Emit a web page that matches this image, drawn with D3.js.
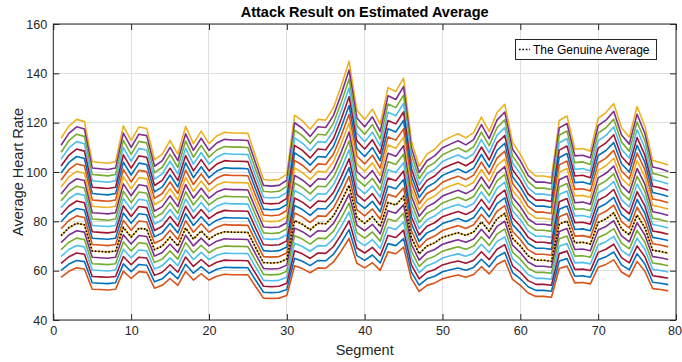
<!DOCTYPE html>
<html>
<head>
<meta charset="utf-8">
<script src="https://cdn.jsdelivr.net/npm/d3@7"></script>
<style>
  html, body { margin: 0; padding: 0; background: #fff; }
  svg { display: block; font-family: "Liberation Sans", Arial, Helvetica, sans-serif; }
</style>
</head>
<body>
<svg id="chart" width="682" height="362"></svg>
<script>
// ---- data ----
const title = "Attack Result on Estimated Average";
const xLabel = "Segment";
const yLabel = "Average Heart Rate";
const legendLabel = "The Genuine Average";

// genuine average heart rate per segment (segments 1..79)
const genuineAverage = [
  74.2, 77.4, 79.2, 78.6, 68.0, 67.8, 67.6, 68.0, 77.5, 73.6,
  77.2, 76.8, 68.5, 70.0, 73.6, 70.0, 77.3, 72.8, 76.1, 72.8,
  74.8, 75.8, 75.6, 75.6, 75.5, 69.3, 63.3, 63.1, 63.3, 64.7,
  80.3, 78.8, 76.6, 79.2, 79.0, 82.3, 88.1, 94.6, 81.6, 79.2,
  81.9, 77.9, 87.6, 86.6, 90.1, 73.5, 66.8, 70.0, 71.3, 73.5,
  74.5, 75.4, 74.3, 75.7, 79.8, 76.0, 81.0, 83.2, 73.1, 70.0,
  66.0, 64.2, 64.2, 63.8, 78.9, 80.1, 71.3, 71.5, 70.8, 79.5,
  81.0, 83.4, 77.0, 74.5, 82.6, 77.4, 68.3, 67.8, 67.1
];

// attack scaling factors applied to the genuine average (bottom to top)
const attackFactors = [
  0.772, 0.810, 0.848, 0.886, 0.924, 0.962, 1.000, 1.038, 1.076, 1.114, 1.152,
  1.190, 1.228, 1.266, 1.304, 1.342, 1.380, 1.418, 1.456, 1.494, 1.532
];

// colour of each attack line (bottom to top)
const lineColors = [
  "#D95319", "#0072BD", "#A2142F", "#4DBEEE", "#77AC30", "#7E2F8E", "#EDB120",
  "#D95319", "#0072BD", "#A2142F", "#4DBEEE", "#77AC30", "#7E2F8E", "#EDB120",
  "#D95319", "#0072BD", "#A2142F", "#4DBEEE", "#77AC30", "#7E2F8E", "#EDB120"
];

const xTicks = [0, 10, 20, 30, 40, 50, 60, 70, 80];
const yTicks = [40, 60, 80, 100, 120, 140, 160];
const xDomain = [0, 80];
const yDomain = [40, 160];

// ---- layout ----
const W = 682, H = 362;
const plot = { left: 53.3, right: 676, top: 24, bottom: 320 };
const axisColor = "#262626";
const gridColor = "#dfdfdf";
const tickLen = 6;

const svg = d3.select("#chart");
const x = d3.scaleLinear().domain(xDomain).range([plot.left, plot.right]);
const y = d3.scaleLinear().domain(yDomain).range([plot.bottom, plot.top]);

// grid
const grid = svg.append("g");
grid.selectAll("line.gx").data(xTicks).join("line")
  .attr("x1", d => x(d)).attr("x2", d => x(d))
  .attr("y1", plot.top).attr("y2", plot.bottom)
  .attr("stroke", gridColor).attr("stroke-width", 1).attr("shape-rendering", "crispEdges");
grid.selectAll("line.gy").data(yTicks).join("line")
  .attr("y1", d => y(d)).attr("y2", d => y(d))
  .attr("x1", plot.left).attr("x2", plot.right)
  .attr("stroke", gridColor).attr("stroke-width", 1).attr("shape-rendering", "crispEdges");

// lines
const line = d3.line().x((d, i) => x(i + 1)).y(d => y(d));
const clipId = "plotclip";
svg.append("clipPath").attr("id", clipId).append("rect")
  .attr("x", plot.left).attr("y", plot.top)
  .attr("width", plot.right - plot.left).attr("height", plot.bottom - plot.top);
const lines = svg.append("g").attr("clip-path", `url(#${clipId})`);
const attackSeries = attackFactors.map((f, k) => ({ k, values: genuineAverage.map(v => v * f) }));
// draw from top line to bottom line
lines.selectAll("path.attack").data(attackSeries.slice().reverse()).join("path")
  .attr("class", "attack")
  .attr("d", d => line(d.values))
  .attr("fill", "none")
  .attr("stroke", d => lineColors[d.k])
  .attr("stroke-width", 1.6)
  .attr("stroke-linejoin", "round");
lines.append("path")
  .attr("d", line(genuineAverage))
  .attr("fill", "none")
  .attr("stroke", "#000")
  .attr("stroke-width", 1.6)
  .attr("stroke-dasharray", "1.6,1.8");

// axes (box + inward ticks)
const xAxisB = d3.axisBottom(x).tickValues(xTicks).tickSizeInner(-tickLen).tickSizeOuter(0).tickPadding(6);
const xAxisT = d3.axisTop(x).tickValues(xTicks).tickSizeInner(-tickLen).tickSizeOuter(0).tickFormat("");
const yAxisL = d3.axisLeft(y).tickValues(yTicks).tickSizeInner(-tickLen).tickSizeOuter(0).tickPadding(6);
const yAxisR = d3.axisRight(y).tickValues(yTicks).tickSizeInner(-tickLen).tickSizeOuter(0).tickFormat("");

function styleAxis(g) {
  g.select(".domain").remove();
  g.selectAll(".tick line").attr("stroke", axisColor).attr("stroke-width", 1);
  g.selectAll(".tick text").attr("fill", "#262626").attr("font-size", 12.6)
    .attr("font-family", "Liberation Sans, Arial, Helvetica, sans-serif");
}
const gxB = svg.append("g").attr("transform", `translate(0,${plot.bottom})`).call(xAxisB).call(styleAxis);
// keep the last x tick label inside the canvas
gxB.selectAll(".tick text").filter(d => d === xTicks[xTicks.length - 1]).attr("dx", -1.5);
svg.append("g").attr("transform", `translate(0,${plot.top})`).call(xAxisT).call(styleAxis);
svg.append("g").attr("transform", `translate(${plot.left},0)`).call(yAxisL).call(styleAxis);
svg.append("g").attr("transform", `translate(${plot.right},0)`).call(yAxisR).call(styleAxis);

svg.append("rect")
  .attr("x", plot.left).attr("y", plot.top)
  .attr("width", plot.right - plot.left).attr("height", plot.bottom - plot.top)
  .attr("fill", "none").attr("stroke", axisColor).attr("stroke-width", 1);

// labels
svg.append("text").attr("x", (plot.left + plot.right) / 2).attr("y", 17)
  .attr("text-anchor", "middle").attr("font-weight", "bold").attr("font-size", 14.5)
  .attr("fill", "#000").text(title);
svg.append("text").attr("x", (plot.left + plot.right) / 2).attr("y", 355)
  .attr("text-anchor", "middle").attr("font-size", 14.5).attr("fill", "#262626").text(xLabel);
svg.append("text").attr("transform", `translate(23,${(plot.top + plot.bottom) / 2}) rotate(-90)`)
  .attr("text-anchor", "middle").attr("font-size", 14.5).attr("fill", "#262626").text(yLabel);

// legend
const lg = svg.append("g");
lg.append("rect").attr("x", 515.5).attr("y", 39.5).attr("width", 141).attr("height", 20)
  .attr("fill", "#fff").attr("stroke", axisColor).attr("stroke-width", 1);
lg.append("line").attr("x1", 519).attr("x2", 530).attr("y1", 49.5).attr("y2", 49.5)
  .attr("stroke", "#000").attr("stroke-width", 1.6).attr("stroke-dasharray", "1.6,1.8");
lg.append("text").attr("x", 533).attr("y", 53.8).attr("font-size", 12).attr("fill", "#000").text(legendLabel);
</script>
</body>
</html>
